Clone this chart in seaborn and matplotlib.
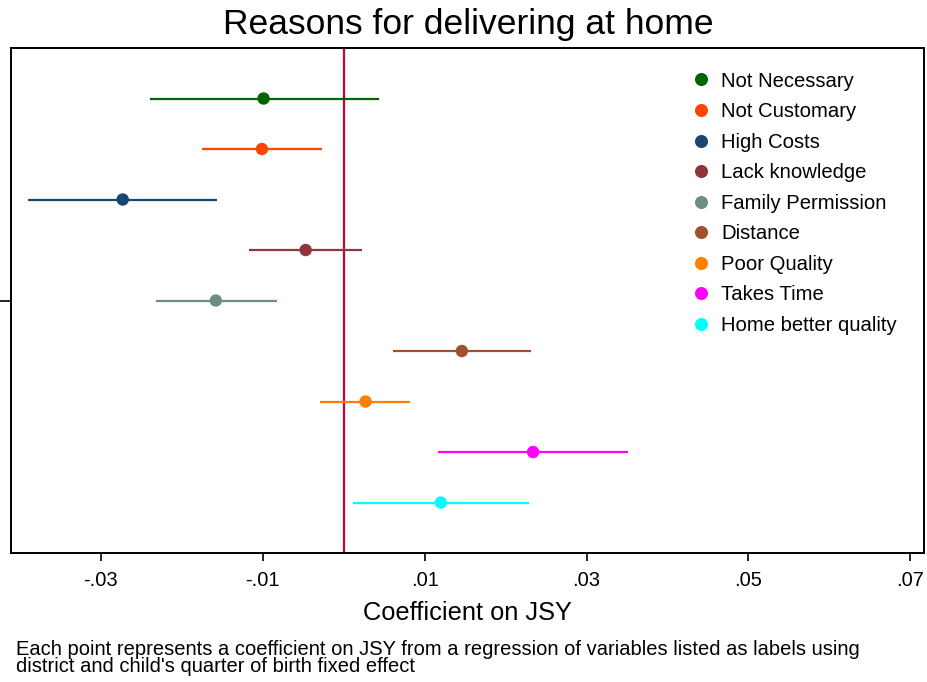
import seaborn as sns
import matplotlib.pyplot as plt
import pandas as pd

# coefficient estimates
reasons = ["Not Necessary", "Not Customary", "High Costs", "Lack knowledge",
           "Family Permission", "Distance", "Poor Quality", "Takes Time",
           "Home better quality"]
coef = [-0.0099, -0.0101, -0.0273, -0.0047, -0.0158, 0.0146, 0.0027, 0.0234, 0.0120]
ci_low = [-0.0239, -0.0175, -0.0390, -0.0117, -0.0232, 0.0061, -0.0029, 0.0117, 0.0012]
ci_high = [0.0044, -0.0027, -0.0156, 0.0022, -0.0083, 0.0232, 0.0082, 0.0351, 0.0229]
colors = ["#006400", "#ff4500", "#1a476f", "#90353b", "#6e8e84",
          "#a0522d", "#ff7f00", "#ff00ff", "#00ffff"]
xticks = [-0.03, -0.01, 0.01, 0.03, 0.05, 0.07]
xticklabels = ["-.03", "-.01", ".01", ".03", ".05", ".07"]

df = pd.DataFrame({"reason": reasons, "coef": coef, "lo": ci_low, "hi": ci_high})
df["pos"] = range(1, len(df) + 1)

sns.set_theme(style="white")
plt.rcParams['font.family'] = ['Liberation Sans', 'DejaVu Sans']
plt.rcParams['text.color'] = 'black'
plt.rcParams['xtick.color'] = 'black'
plt.rcParams['ytick.color'] = 'black'
plt.rcParams['axes.labelcolor'] = 'black'

fig = plt.figure(figsize=(9.27, 6.82), dpi=100)
ax = fig.add_axes([0.0119, 0.1891, 0.9849, 0.7405])

# confidence intervals
for i, row in df.iterrows():
    ax.hlines(row["pos"], row["lo"], row["hi"], color=colors[i], linewidth=1.6, zorder=2)

# point estimates
sns.scatterplot(data=df, x="coef", y="pos", hue="reason", palette=colors,
                hue_order=reasons, s=80, edgecolor="none", ax=ax, zorder=3)

ax.axvline(0, color="#c10534", linewidth=1.6, zorder=1)

ax.set_xlim(-0.0411, 0.0717)
ax.set_ylim(10, 0)
ax.set_xticks(xticks)
ax.set_xticklabels(xticklabels, fontsize=14.5)
ax.set_yticks([5])
ax.set_yticklabels([""])
ax.tick_params(axis="x", bottom=True, direction="out", length=6, width=1.2, pad=7)
ax.tick_params(axis="y", left=True, direction="out", length=9, width=1.2)
for s in ax.spines.values():
    s.set_color("black")
    s.set_linewidth(1.4)

ax.set_xlabel("Coefficient on JSY", fontsize=18.3, labelpad=8)
ax.set_ylabel("")
fig.text(0.505, 0.964, "Reasons for delivering at home", fontsize=25.5,
         ha="center", va="center")

leg = ax.legend(loc="upper left", bbox_to_anchor=(0.7227, 0.9895), frameon=False,
                fontsize=14.6, labelspacing=0.57, handlelength=1.2,
                handletextpad=0.38, markerscale=1.05)

fig.text(0.017, 0.0615, "Each point represents a coefficient on JSY from a regression of variables listed as labels using\n"
         "district and child's quarter of birth fixed effect", fontsize=14.5,
         linespacing=0.85, va="top")

fig.savefig("out.png", dpi=100)
